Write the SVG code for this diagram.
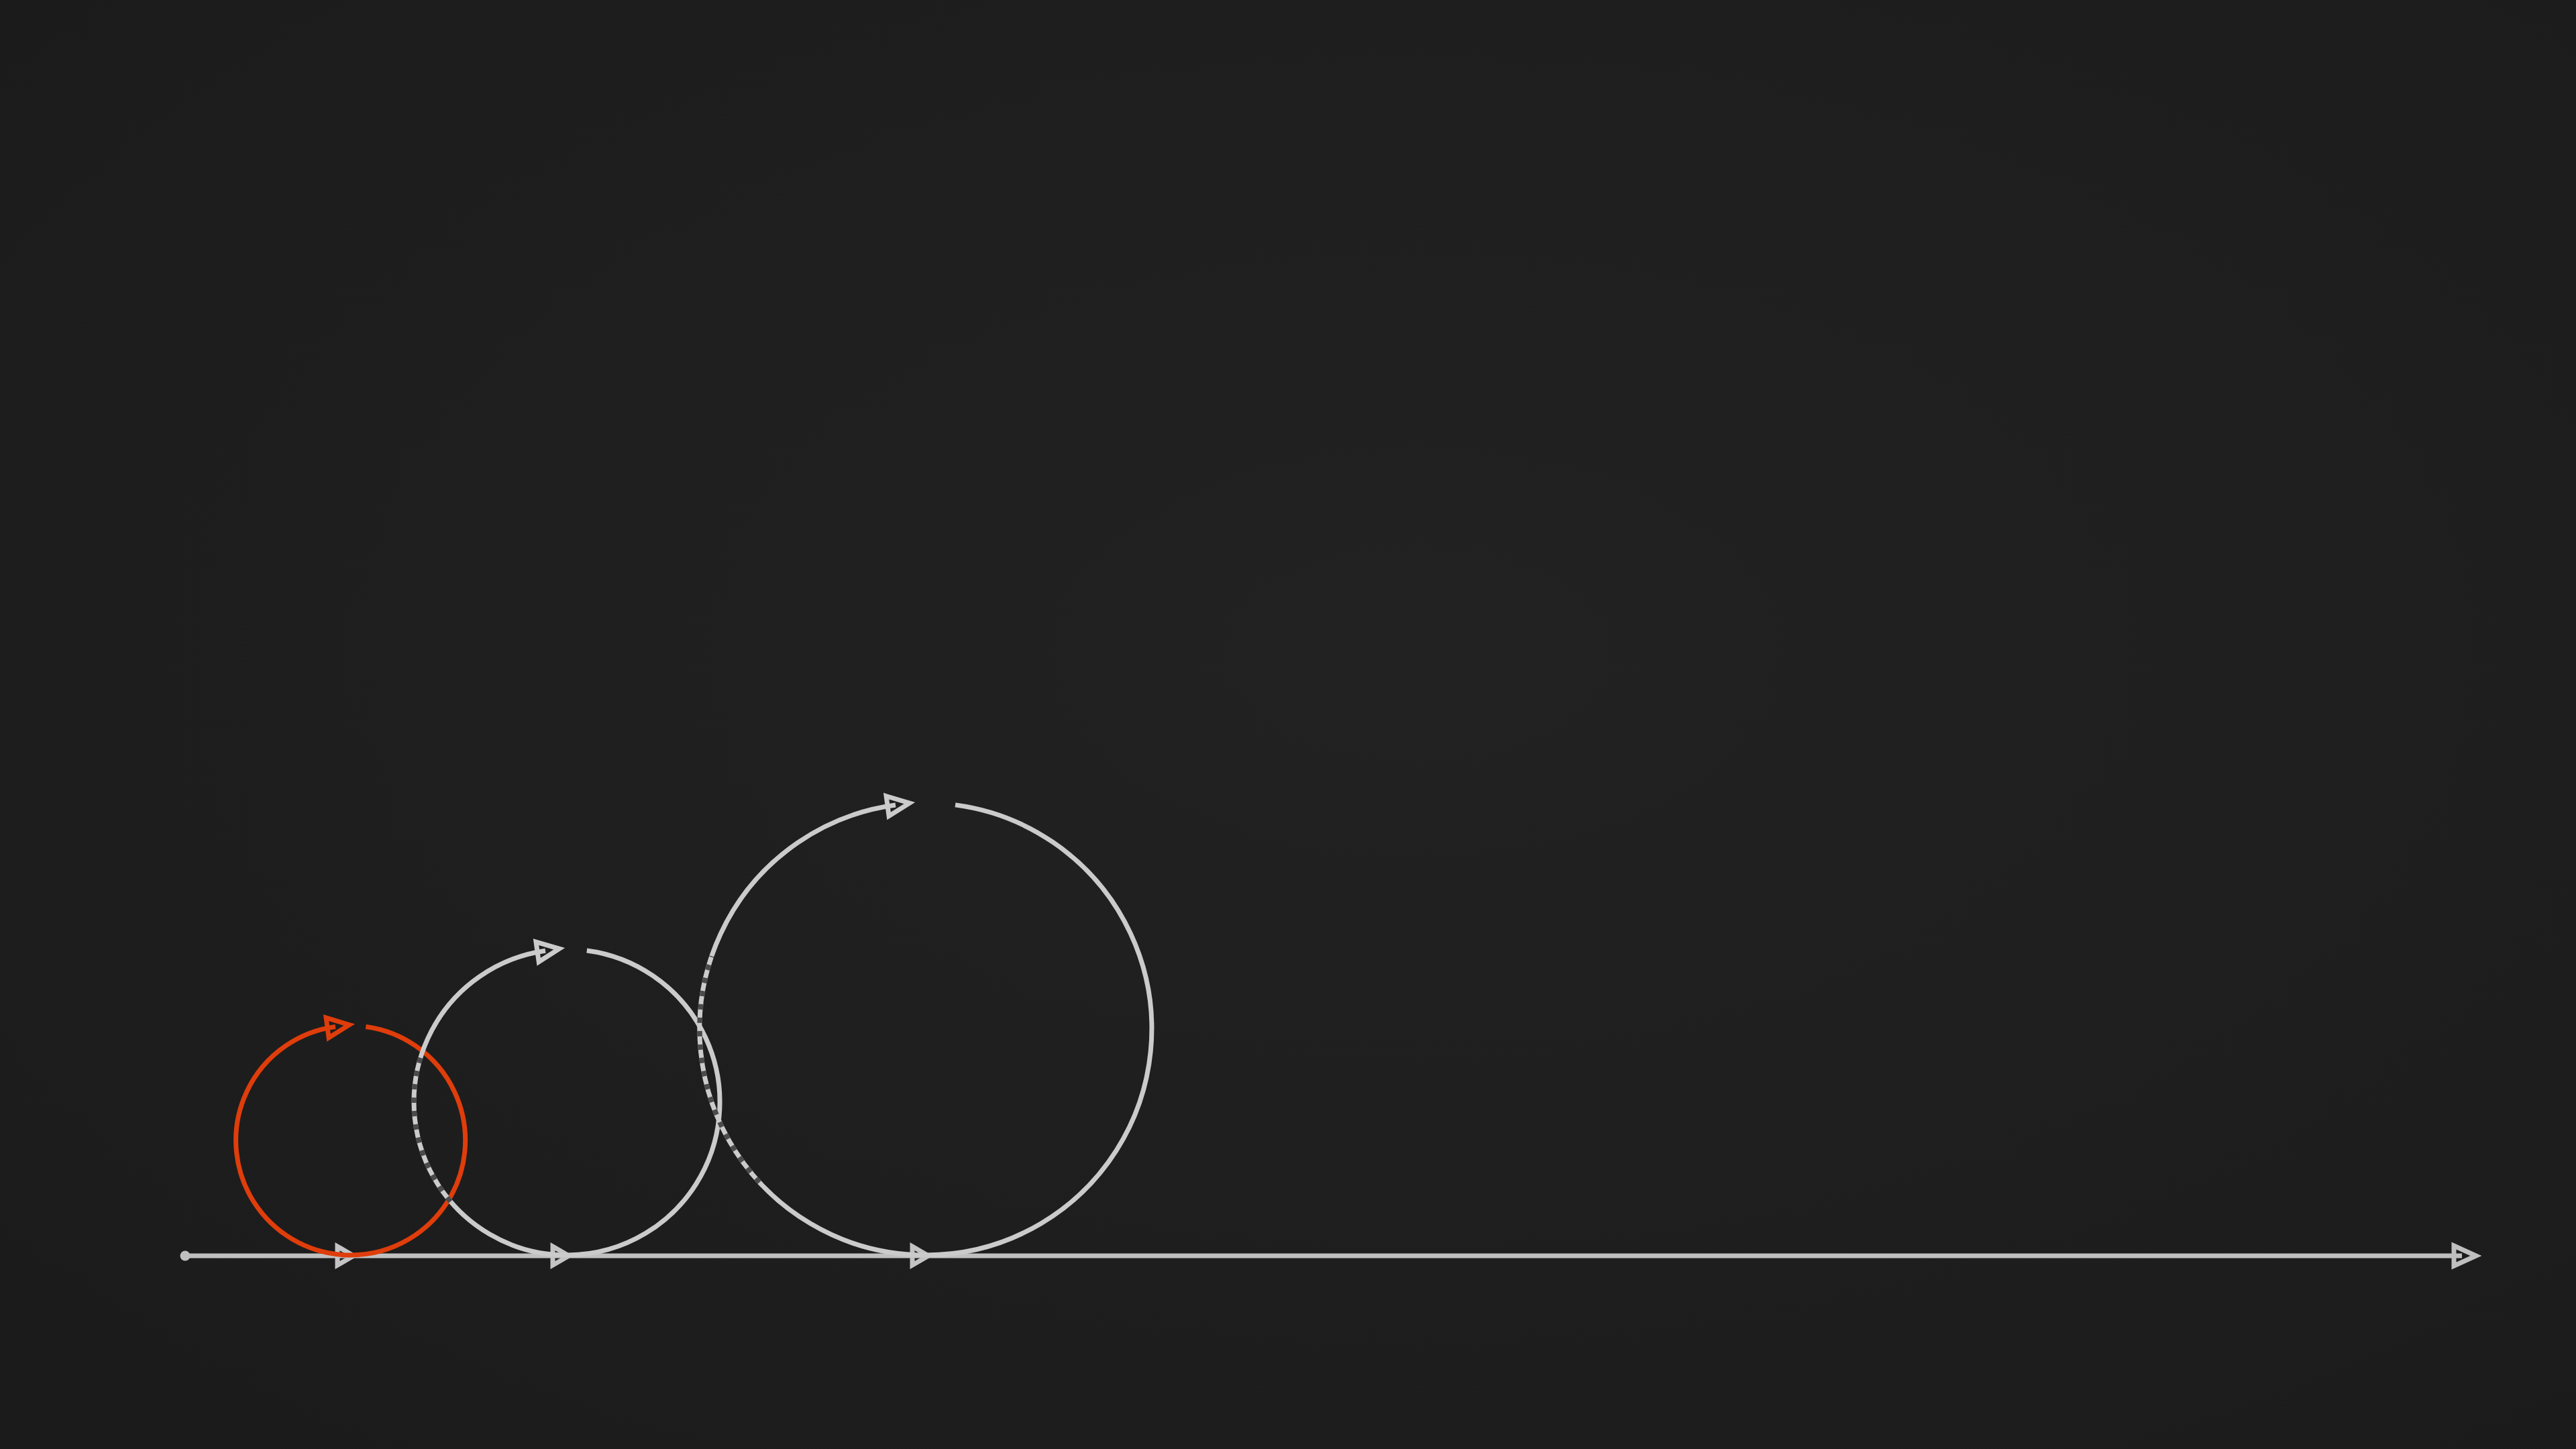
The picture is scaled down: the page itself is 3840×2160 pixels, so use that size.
<svg xmlns="http://www.w3.org/2000/svg" width="3840" height="2160" viewBox="0 0 3840 2160">
  <defs>
    <radialGradient id="bg" cx="0.55" cy="0.45" r="0.75">
      <stop offset="0" stop-color="#222222"/>
      <stop offset="1" stop-color="#1b1b1b"/>
    </radialGradient>
    <marker id="arrowGray" markerUnits="userSpaceOnUse" viewBox="-10 -25 60 50" markerWidth="60" markerHeight="50" refX="12" refY="0" orient="auto" overflow="visible">
      <path d="M0,-15 L33,0 L0,15 Z" fill="none" stroke="#cbcbcb" stroke-width="7" stroke-linejoin="miter"/>
    </marker>
    <marker id="arrowRed" markerUnits="userSpaceOnUse" viewBox="-10 -25 60 50" markerWidth="60" markerHeight="50" refX="12" refY="0" orient="auto" overflow="visible">
      <path d="M0,-15 L33,0 L0,15 Z" fill="none" stroke="#df3d0b" stroke-width="7" stroke-linejoin="miter"/>
    </marker>
    <marker id="arrowBase" markerUnits="userSpaceOnUse" viewBox="-10 -25 60 50" markerWidth="60" markerHeight="50" refX="12" refY="0" orient="auto" overflow="visible">
      <path d="M0,-14 L24,0 L0,14 Z" fill="none" stroke="#c4c4c4" stroke-width="7" stroke-linejoin="miter"/>
    </marker>
    <marker id="arrowEnd" markerUnits="userSpaceOnUse" viewBox="-10 -25 60 50" markerWidth="60" markerHeight="50" refX="12" refY="0" orient="auto" overflow="visible">
      <path d="M0,-15 L33,0 L0,15 Z" fill="none" stroke="#bfbfbf" stroke-width="7" stroke-linejoin="miter"/>
    </marker>
  </defs>
  <style>
    .arc { fill: none; stroke-width: 7; stroke-linecap: butt; }
    .gray { stroke: #cbcbcb; }
    .red { stroke: #df3d0b; }
    .dash { fill: none; stroke: #4b4b4b; stroke-width: 7.5; stroke-dasharray: 8 12; }
    .base { fill: none; stroke: #c0c0c0; stroke-width: 7; }
  </style>
  <rect x="0" y="0" width="3840" height="2160" fill="url(#bg)"/>

  <g id="connectors">
    <path class="base" d="M276,1872 L515,1872 L836,1872 L1372,1872 L3670,1872" marker-mid="url(#arrowBase)" marker-end="url(#arrowEnd)"/>
    <circle cx="276" cy="1872" r="7.5" fill="#c0c0c0"/>
  </g>

  <g id="circle-small">
    <path class="arc red" d="M545.3,1530.5 A171,171 0 1 1 500,1530.5" marker-end="url(#arrowRed)"/>
  </g>

  <g id="circle-medium">
    <path class="arc gray" d="M874.8,1416.95 A228,228 0 1 1 813.0,1417.26" marker-end="url(#arrowGray)"/>
    <path class="dash" d="M671.6,1791.1 A228,228 0 0 1 628.8,1570.7"/>
  </g>

  <g id="circle-large">
    <path class="arc gray" d="M1424.0,1199.9 A337,337 0 1 1 1335.0,1200.0" marker-end="url(#arrowGray)"/>
    <path class="dash" d="M1132.2,1762.4 A337,337 0 0 1 1061.0,1425.4"/>
  </g>
</svg>
